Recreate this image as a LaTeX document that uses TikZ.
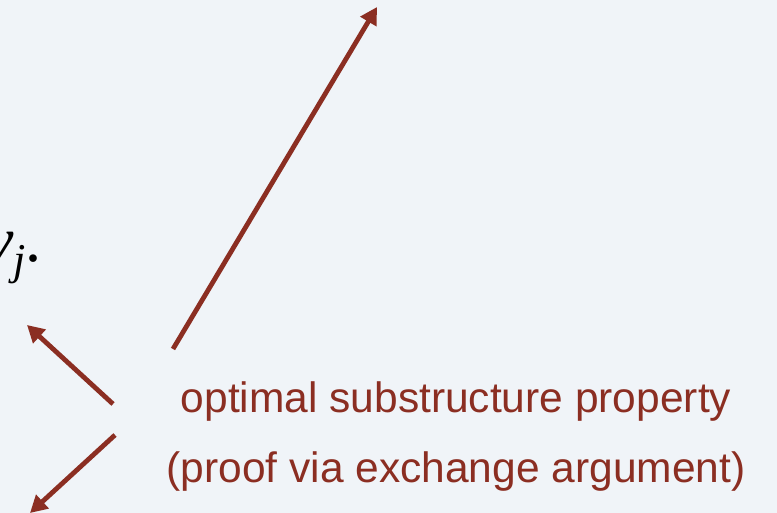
\documentclass[tikz,border=0pt]{standalone}
\usepackage{fontspec}
\setsansfont{Liberation Sans}
\newfontfamily\vjfont{Liberation Serif}
\definecolor{proofred}{RGB}{139,46,34}
\definecolor{slidebg}{RGB}{240,244,248}
\usetikzlibrary{arrows.meta}

\begin{document}
\begin{tikzpicture}[x=1pt,y=-1pt,
        arr/.style={draw=proofred,line width=4.8pt,
                    -{Triangle[length=17pt,width=18pt]}},
        note/.style={text=proofred,font=\sffamily\fontsize{42.5}{70}\selectfont,
                     align=center,inner sep=0pt}]
        \fill[slidebg] (0,0) rectangle (777,513);
        \useasboundingbox[clip] (0,0) rectangle (777,513);
        % partly hidden label at the left edge
        \node[anchor=base east,inner sep=0pt,font=\vjfont\fontsize{64}{66}\selectfont] (vj) at (42,262)
            {\itshape v\raisebox{-13pt}{\fontsize{44}{44}\selectfont j}\upshape.};
        \node[note,anchor=base] (opt) at (456,482) {optimal substructure property\\(proof via exchange argument)};
        \coordinate (a1) at (173,349); \coordinate (b1) at (377,7);
        \coordinate (a2) at (113,404); \coordinate (b2) at (27,325);
        \coordinate (a3) at (115,435); \coordinate (b3) at (30,513);
        \draw[arr] (a1)--(b1); \draw[arr] (a2)--(b2); \draw[arr] (a3)--(b3);
\end{tikzpicture}
\end{document}
